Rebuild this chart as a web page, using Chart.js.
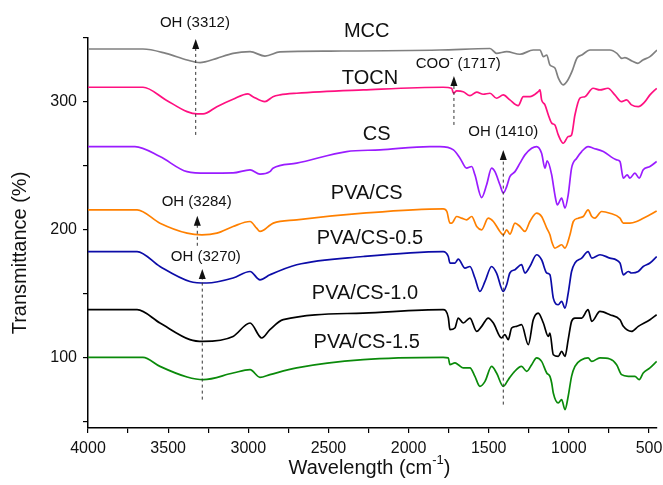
<!DOCTYPE html>
<html>
<head>
<meta charset="utf-8">
<title>FTIR spectra</title>
<script src="https://cdn.jsdelivr.net/npm/chart.js@4.4.1/dist/chart.umd.min.js"></script>
<style>
  html, body { margin: 0; padding: 0; background: #fff; }
  #ftirChart { display: block; }
</style>
</head>
<body>
<canvas id="ftirChart" width="663" height="485"></canvas>
<script>
// Espectros FTIR (número de onda en cm-1, transmitancia desplazada en %)
const mccWave = [4000, 3657, 3514, 3382, 3301, 3270, 3196, 3095, 2989, 2896, 2802, 2490, 1804, 1492, 1451, 1388, 1305, 1222, 1180, 1159, 1138, 1118, 1087, 1066, 1035, 1012, 981, 949, 919, 868, 744, 700, 669, 650, 607, 569, 538, 494, 450];
const mccT = [341.4, 341.4, 338.0, 332.8, 330.7, 331.3, 334.1, 338.0, 339.3, 335.9, 339.1, 339.8, 340.6, 341.8, 338.0, 339.3, 337.3, 340.6, 340.6, 335.4, 336.7, 328.9, 326.6, 318.8, 313.3, 315.9, 323.7, 334.4, 336.7, 340.6, 340.6, 338.0, 334.1, 334.6, 332.0, 330.2, 332.8, 335.4, 340.6];

const tocnWave = [4000, 3657, 3514, 3382, 3320, 3282, 3196, 3095, 3002, 2971, 2896, 2846, 2802, 2698, 2283, 1784, 1731, 1720, 1700, 1659, 1617, 1575, 1534, 1492, 1451, 1409, 1368, 1316, 1284, 1243, 1191, 1180, 1170, 1149, 1128, 1107, 1087, 1066, 1035, 1004, 983, 962, 931, 900, 849, 806, 756, 713, 671, 640, 609, 567, 525, 494, 452];
const tocnT = [311.5, 311.5, 301.6, 292.4, 290.6, 290.6, 296.3, 302.1, 306.3, 304.1, 300.2, 304.1, 305.5, 306.8, 309.4, 311.5, 310.7, 306.8, 308.6, 308.0, 304.9, 307.6, 306.0, 306.8, 302.9, 305.5, 301.6, 297.1, 304.1, 304.1, 308.0, 309.4, 301.6, 297.7, 289.8, 283.4, 282.0, 274.2, 267.7, 272.9, 274.2, 289.8, 302.9, 304.1, 310.7, 309.4, 310.7, 305.5, 300.2, 301.6, 297.7, 296.3, 300.2, 305.5, 310.7];

const csWave = [4000, 3707, 3551, 3382, 3260, 3095, 2989, 2927, 2865, 2846, 2698, 2386, 2178, 1867, 1804, 1720, 1679, 1638, 1606, 1586, 1544, 1513, 1482, 1461, 1430, 1409, 1388, 1368, 1336, 1305, 1274, 1232, 1201, 1170, 1149, 1135, 1107, 1097, 1087, 1072, 1045, 1024, 1004, 983, 951, 920, 880, 847, 785, 702, 681, 660, 636, 619, 588, 561, 536, 494, 452];
const csT = [265.1, 265.1, 257.3, 245.5, 244.3, 244.5, 246.9, 243.5, 245.5, 248.2, 252.1, 261.2, 262.5, 265.1, 265.1, 262.5, 256.0, 248.2, 249.5, 243.0, 225.2, 235.2, 248.2, 245.5, 235.2, 228.7, 233.8, 241.6, 245.5, 252.1, 258.6, 263.8, 265.1, 259.9, 248.2, 253.9, 243.0, 235.2, 227.3, 219.5, 224.8, 217.0, 227.3, 248.2, 256.0, 261.2, 265.1, 263.8, 261.2, 254.7, 253.4, 240.4, 243.0, 240.4, 244.3, 240.4, 246.9, 249.5, 253.4];

const pvaCsWave = [4000, 3694, 3551, 3382, 3289, 3196, 3095, 2989, 2948, 2927, 2906, 2875, 2844, 2698, 2283, 1784, 1761, 1742, 1731, 1700, 1669, 1638, 1606, 1575, 1544, 1503, 1471, 1430, 1409, 1388, 1368, 1336, 1305, 1274, 1243, 1201, 1170, 1138, 1118, 1107, 1087, 1066, 1045, 1024, 993, 972, 941, 910, 880, 857, 837, 796, 744, 681, 660, 619, 577, 536, 494, 452];
const pvaCsT = [215.6, 215.6, 205.2, 197.4, 196.1, 197.4, 202.6, 206.5, 201.3, 198.7, 199.6, 202.6, 205.2, 207.8, 213.0, 216.4, 214.3, 205.2, 205.2, 210.4, 209.1, 207.8, 210.4, 202.6, 200.0, 209.1, 206.5, 198.7, 196.1, 200.0, 196.6, 205.2, 202.6, 198.7, 206.5, 213.0, 210.4, 201.3, 196.1, 190.9, 185.7, 187.0, 188.3, 185.7, 196.1, 206.5, 209.1, 210.4, 215.6, 210.4, 209.1, 214.3, 213.0, 209.1, 205.2, 205.2, 206.5, 209.1, 211.7, 214.8];

const pvaCs05Wave = [4000, 3694, 3551, 3364, 3260, 3095, 2989, 2927, 2865, 2698, 2283, 1784, 1752, 1742, 1711, 1690, 1648, 1617, 1586, 1555, 1523, 1482, 1451, 1409, 1388, 1368, 1336, 1295, 1274, 1243, 1201, 1170, 1138, 1118, 1097, 1066, 1045, 1024, 1004, 983, 962, 920, 880, 857, 806, 744, 681, 660, 629, 609, 567, 536, 494, 452];
const pvaCs05T = [183.0, 183.0, 171.3, 159.6, 158.4, 162.3, 167.4, 160.9, 164.8, 172.7, 179.1, 183.0, 179.1, 174.0, 174.0, 177.1, 170.1, 171.3, 162.3, 151.8, 159.6, 171.3, 166.2, 151.8, 157.0, 166.2, 168.8, 172.7, 166.2, 171.3, 180.5, 176.6, 166.2, 164.8, 146.6, 141.4, 144.0, 138.8, 150.5, 167.4, 174.0, 177.9, 183.0, 177.9, 180.5, 177.9, 174.0, 164.8, 167.4, 166.2, 167.4, 171.3, 174.0, 179.1];

const pvaCs10Wave = [4000, 3694, 3551, 3364, 3281, 3095, 2989, 2916, 2865, 2782, 2283, 1784, 1752, 1742, 1711, 1690, 1659, 1617, 1575, 1544, 1503, 1471, 1420, 1399, 1378, 1357, 1326, 1295, 1253, 1222, 1191, 1159, 1128, 1118, 1097, 1066, 1045, 1024, 1004, 983, 962, 920, 880, 857, 806, 744, 681, 660, 609, 567, 494, 452];
const pvaCs10T = [137.5, 137.5, 127.1, 114.1, 112.7, 116.6, 127.1, 115.4, 121.9, 129.7, 134.9, 137.5, 131.3, 121.9, 123.2, 131.0, 127.1, 131.0, 120.5, 124.5, 131.0, 127.1, 115.4, 118.0, 114.1, 123.2, 124.5, 125.8, 110.2, 129.7, 134.9, 127.1, 116.6, 119.3, 102.3, 101.0, 104.9, 101.0, 114.1, 128.4, 131.0, 131.0, 137.5, 128.4, 136.2, 133.6, 129.7, 124.5, 120.5, 124.5, 129.7, 133.6];

const pvaCs15Wave = [4000, 3657, 3551, 3382, 3281, 3095, 2989, 2927, 2865, 2698, 2283, 1784, 1752, 1742, 1711, 1690, 1659, 1617, 1586, 1555, 1523, 1482, 1451, 1409, 1378, 1347, 1295, 1263, 1232, 1201, 1170, 1138, 1118, 1107, 1097, 1066, 1045, 1024, 1004, 983, 962, 920, 880, 857, 806, 744, 702, 671, 629, 588, 561, 536, 494, 452];
const pvaCs15T = [100.2, 100.2, 93.2, 84.9, 82.8, 88.0, 90.6, 84.6, 86.7, 92.0, 98.4, 100.2, 99.8, 94.5, 95.9, 94.5, 92.0, 92.0, 85.4, 77.6, 81.5, 93.2, 88.0, 77.6, 82.8, 88.0, 93.2, 89.3, 94.5, 99.8, 97.1, 88.0, 85.4, 80.2, 72.4, 64.6, 67.2, 59.4, 69.8, 85.4, 93.2, 98.4, 99.8, 97.1, 99.8, 99.0, 94.5, 86.7, 85.4, 85.4, 82.8, 88.0, 92.0, 97.1];

const seriesNames = ['MCC', 'TOCN', 'CS', 'PVA/CS', 'PVA/CS-0.5', 'PVA/CS-1.0', 'PVA/CS-1.5'];
const seriesWaves = [mccWave, tocnWave, csWave, pvaCsWave, pvaCs05Wave, pvaCs10Wave, pvaCs15Wave];
const seriesValues = [mccT, tocnT, csT, pvaCsT, pvaCs05T, pvaCs10T, pvaCs15T];
const seriesColors = ['#808080', '#ff1080', '#9a1cff', '#ff8000', '#0c0ca8', '#000000', '#0a8a0a'];

const xTickValues = [4000, 3750, 3500, 3250, 3000, 2750, 2500, 2250, 2000, 1750, 1500, 1250, 1000, 750, 500];
const yTickValues = [50, 100, 150, 200, 250, 300, 350];

// Etiquetas de cada espectro (en unidades de datos)
const seriesLabelAt = [[2261, 354.9], [2241, 318.5], [2199, 274.2], [2261, 228.7], [2241, 193.5], [2272, 150.5], [2261, 111.5]];

// Flechas de picos: x, y base, y punta, texto y su posición
const peakMarks = [
  { parts: [['OH (3312)', false]], wave: 3328, from: 274.2, to: 349.2, textAt: [3333, 361.5] },
  { parts: [['COO', false], ['-', true], [' (1717)', false]], wave: 1717, from: 282.0, to: 320.3, textAt: [1690, 329.7] },
  { parts: [['OH (1410)', false]], wave: 1409, from: 63.3, to: 262.5, textAt: [1409, 276.8] },
  { parts: [['OH (3284)', false]], wave: 3318, from: 187.5, to: 210.9, textAt: [3322, 222.2] },
  { parts: [['OH (3270)', false]], wave: 3287, from: 67.2, to: 169.3, textAt: [3265, 178.8] }
];

const FONT = "'Liberation Sans', Arial, Helvetica, sans-serif";

const drawParts = (ctx, parts, cx, cy, size) => {
  const supSize = Math.round(size * 0.65);
  let total = 0;
  parts.forEach(([t, sup]) => {
    ctx.font = `${sup ? supSize : size}px ${FONT}`;
    total += ctx.measureText(t).width;
  });
  let x = cx - total / 2;
  ctx.textAlign = 'left';
  ctx.textBaseline = 'middle';
  parts.forEach(([t, sup]) => {
    ctx.font = `${sup ? supSize : size}px ${FONT}`;
    ctx.fillText(t, x, sup ? cy - size * 0.38 : cy);
    x += ctx.measureText(t).width;
  });
};

const drawArrow = (ctx, x, yBottom, yTip) => {
  ctx.save();
  ctx.strokeStyle = '#333';
  ctx.lineWidth = 1;
  ctx.setLineDash([3, 3]);
  ctx.beginPath();
  ctx.moveTo(x, yBottom);
  ctx.lineTo(x, yTip + 9);
  ctx.stroke();
  ctx.setLineDash([]);
  ctx.fillStyle = '#111';
  ctx.beginPath();
  ctx.moveTo(x, yTip);
  ctx.lineTo(x - 3.5, yTip + 10);
  ctx.lineTo(x + 3.5, yTip + 10);
  ctx.closePath();
  ctx.fill();
  ctx.restore();
};

const annotationPlugin = {
  id: 'ftirAnnotations',
  afterDraw(chart) {
    const { ctx, scales: { x, y }, chartArea } = chart;
    ctx.save();
    ctx.fillStyle = '#111';

    seriesNames.forEach((name, i) => {
      const [w, v] = seriesLabelAt[i];
      drawParts(ctx, [[name, false]], x.getPixelForValue(w), y.getPixelForValue(v), 20);
    });

    peakMarks.forEach(m => {
      const px = x.getPixelForValue(m.wave);
      drawArrow(ctx, px, y.getPixelForValue(m.from), y.getPixelForValue(m.to));
      ctx.fillStyle = '#111';
      drawParts(ctx, m.parts, x.getPixelForValue(m.textAt[0]), y.getPixelForValue(m.textAt[1]), 15);
    });

    // Títulos de ejes
    drawParts(ctx, [['Wavelength (cm', false], ['-1', true], [')', false]], (chartArea.left + chartArea.right) / 2 - 3, 468, 20);
    ctx.translate(20, 253);
    ctx.rotate(-Math.PI / 2);
    drawParts(ctx, [['Transmittance (%)', false]], 0, 0, 20);
    ctx.restore();
  }
};

const initFtirChart = () => {
  const chartEl = document.getElementById('ftirChart');
  if (typeof Chart === 'undefined' || !chartEl) return null;

  const datasets = seriesNames.map((name, i) => ({
    label: name,
    data: seriesWaves[i].map((w, k) => ({ x: w, y: seriesValues[i][k] })),
    borderColor: seriesColors[i],
    borderWidth: 1.7,
    pointRadius: 0,
    fill: false,
    cubicInterpolationMode: 'monotone'
  }));

  const tickFont = { family: FONT, size: 16 };

  return new Chart(chartEl.getContext('2d'), {
    type: 'line',
    data: { datasets },
    options: {
      responsive: false,
      animation: false,
      devicePixelRatio: 1,
      layout: { padding: { left: 0, top: 38, right: 6, bottom: 0 } },
      plugins: {
        legend: { display: false },
        tooltip: { enabled: false }
      },
      scales: {
        x: {
          type: 'linear',
          reverse: true,
          min: 450,
          max: 4000,
          afterBuildTicks: (scale) => { scale.ticks = xTickValues.map(v => ({ value: v })); },
          afterFit: (scale) => {
            scale.height = 57;
            scale.paddingLeft = 0;
            scale.paddingRight = 0;
          },
          ticks: {
            autoSkip: false,
            maxRotation: 0,
            padding: 6,
            color: '#111',
            font: tickFont,
            callback: (v) => (v % 500 === 0 ? String(v) : '')
          },
          grid: { drawOnChartArea: false, drawTicks: true, tickLength: 5, color: '#000', lineWidth: 1.2 },
          border: { display: true, color: '#000', width: 1.5 }
        },
        y: {
          min: 45,
          max: 350,
          afterBuildTicks: (scale) => { scale.ticks = yTickValues.map(v => ({ value: v })); },
          afterFit: (scale) => {
            scale.width = 88;
            scale.paddingTop = 0;
            scale.paddingBottom = 0;
          },
          ticks: {
            autoSkip: false,
            padding: 6,
            color: '#111',
            font: tickFont,
            callback: (v) => (v % 100 === 0 ? String(v) : '')
          },
          grid: { drawOnChartArea: false, drawTicks: true, tickLength: 5, color: '#000', lineWidth: 1.2 },
          border: { display: true, color: '#000', width: 1.5 }
        }
      }
    },
    plugins: [annotationPlugin]
  });
};

initFtirChart();
</script>
</body>
</html>
